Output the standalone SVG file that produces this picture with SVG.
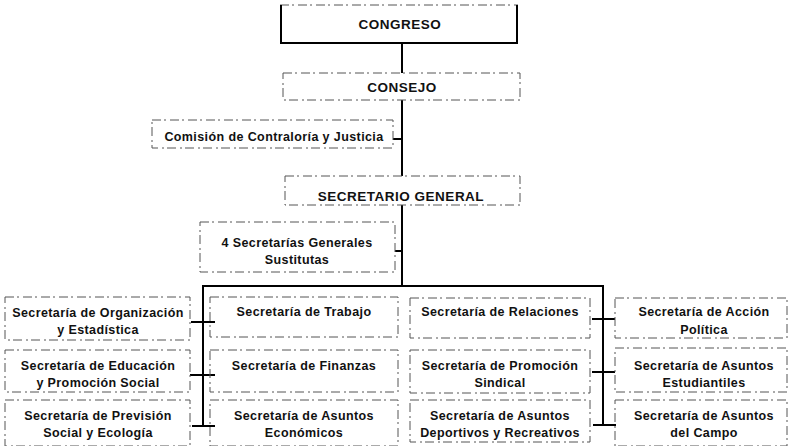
<svg xmlns="http://www.w3.org/2000/svg" width="790" height="446" viewBox="0 0 790 446">
<style>
.box{fill:none;stroke:#555;stroke-width:1;stroke-dasharray:9 3 2 4}
.ln{stroke:#000;stroke-width:2;fill:none}
text{font-family:"Liberation Sans",Arial,sans-serif;font-weight:bold;fill:#111;text-anchor:middle}
.t{font-size:12.5px;letter-spacing:0.4px}
.c{font-size:12.5px;letter-spacing:0.4px}
.h{font-size:13.5px;letter-spacing:0.5px}
</style>
<rect width="790" height="446" fill="#fff"/>
<g id="connectors">
<line class="ln" x1="402" y1="43" x2="402" y2="286"/>
<line class="ln" x1="202" y1="286" x2="603" y2="286"/>
<line class="ln" x1="203" y1="285" x2="203" y2="426"/>
<line class="ln" x1="603" y1="285" x2="603" y2="425"/>
<line class="ln" x1="393" y1="139" x2="402" y2="139"/>
<line class="ln" x1="395" y1="251" x2="402" y2="251"/>
<line class="ln" x1="191" y1="322" x2="215" y2="322"/>
<line class="ln" x1="190" y1="375" x2="215" y2="375"/>
<line class="ln" x1="192" y1="426" x2="215" y2="426"/>
<line class="ln" x1="592" y1="319" x2="615" y2="319"/>
<line class="ln" x1="592" y1="372" x2="615" y2="372"/>
<line class="ln" x1="593" y1="425" x2="616" y2="425"/>
</g>
<g id="congreso">
<line class="box" x1="280" y1="5" x2="518" y2="5"/>
<path class="ln" d="M281 5V43H517V5"/>
<text class="h" x="400" y="29">CONGRESO</text>
</g>
<g id="consejo">
<rect class="box" x="283" y="73" width="237" height="27" style="fill:#fff"/>
<text class="h" x="402" y="92">CONSEJO</text>
</g>
<g id="comision">
<rect class="box" x="152" y="120" width="241" height="28"/>
<text class="c" x="274" y="141">Comisión de Contraloría y Justicia</text>
</g>
<g id="secretario-general">
<rect class="box" x="285" y="176" width="235" height="29" style="fill:#fff"/>
<text class="h" x="401" y="201">SECRETARIO GENERAL</text>
</g>
<g id="sustitutas">
<rect class="box" x="200" y="222" width="195" height="50"/>
<text class="t" x="297" y="247">4 Secretarías Generales</text>
<text class="t" x="297" y="264">Sustitutas</text>
</g>
<g id="organizacion">
<rect class="box" x="5" y="297" width="185" height="43"/>
<text class="t" x="98" y="317">Secretaría de Organización</text>
<text class="t" x="98" y="334">y Estadística</text>
</g>
<g id="educacion">
<rect class="box" x="5" y="350" width="185" height="42"/>
<text class="t" x="98" y="370">Secretaría de Educación</text>
<text class="t" x="98" y="387">y Promoción Social</text>
</g>
<g id="prevision">
<rect class="box" x="5" y="400" width="185" height="46"/>
<text class="t" x="98" y="420">Secretaría de Previsión</text>
<text class="t" x="98" y="437">Social y Ecología</text>
</g>
<g id="trabajo">
<rect class="box" x="210" y="297" width="188" height="40"/>
<text class="t" x="304" y="316">Secretaría de Trabajo</text>
</g>
<g id="finanzas">
<rect class="box" x="210" y="350" width="188" height="42"/>
<text class="t" x="304" y="370">Secretaría de Finanzas</text>
</g>
<g id="economicos">
<rect class="box" x="210" y="400" width="188" height="46"/>
<text class="t" x="304" y="420">Secretaría de Asuntos</text>
<text class="t" x="304" y="437">Económicos</text>
</g>
<g id="relaciones">
<rect class="box" x="410" y="298" width="180" height="40"/>
<text class="t" x="500" y="316">Secretaría de Relaciones</text>
</g>
<g id="sindical">
<rect class="box" x="410" y="350" width="180" height="43"/>
<text class="t" x="500" y="370">Secretaría de Promoción</text>
<text class="t" x="500" y="387">Sindical</text>
</g>
<g id="deportivos">
<rect class="box" x="410" y="400" width="180" height="42"/>
<text class="t" x="500" y="420">Secretaría de Asuntos</text>
<text class="t" x="500" y="437">Deportivos y Recreativos</text>
</g>
<g id="accion-politica">
<rect class="box" x="615" y="298" width="172" height="40"/>
<text class="t" x="704" y="316">Secretaría de Acción</text>
<text class="t" x="704" y="334">Política</text>
</g>
<g id="estudiantiles">
<rect class="box" x="615" y="348" width="172" height="44"/>
<text class="t" x="704" y="370">Secretaría de Asuntos</text>
<text class="t" x="704" y="387">Estudiantiles</text>
</g>
<g id="campo">
<rect class="box" x="615" y="400" width="172" height="46"/>
<text class="t" x="704" y="420">Secretaría de Asuntos</text>
<text class="t" x="704" y="437">del Campo</text>
</g>
</svg>
